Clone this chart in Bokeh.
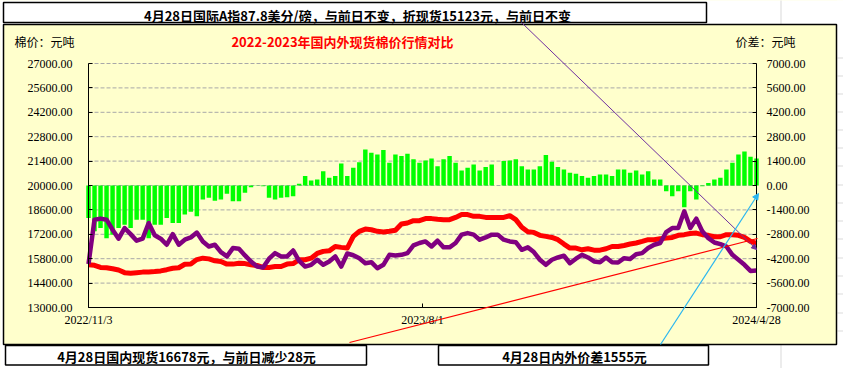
from bokeh.plotting import figure
from bokeh.models import (Range1d, LinearAxis, FixedTicker, NumeralTickFormatter,
                          CustomJSTickFormatter, BoxAnnotation, Label, Arrow, NormalHead,
                          ColumnDataSource)
from bokeh.embed import file_html
from bokeh.resources import INLINE

# ---------------- data ----------------
date_labels = ["2022/11/3", "2023/8/1", "2024/4/28"]

domestic = [
    15450, 15420, 15300, 15280, 15220, 15150, 15000, 14970, 15000, 15030,
    15040, 15060, 15100, 15170, 15250, 15280, 15480, 15500, 15750, 15830,
    15790, 15680, 15640, 15490, 15490, 15540, 15520, 15450, 15410, 15300,
    15300, 15350, 15350, 15490, 15520, 15740, 15740, 15830, 16100, 16220,
    16250, 16500, 16450, 16410, 17080, 17370, 17500, 17460, 17370, 17330,
    17370, 17430, 17790, 17850, 17980, 17980, 18100, 18100, 18060, 18040,
    18040, 18170, 18330, 18330, 18230, 18230, 18170, 18170, 18170, 18170,
    18270, 18040, 17600, 17350, 17310, 17140, 17080, 17020, 16890, 16640,
    16410, 16410, 16310, 16370, 16290, 16290, 16370, 16500, 16500, 16560,
    16640, 16700, 16790, 16890, 16890, 16950, 16980, 17020, 17140, 17180,
    17250, 17270, 17180, 17140, 17060, 17060, 17180, 17180, 17140, 17020,
    16790, 16678,
]

international = [
    15500, 18040, 18100, 18040, 17460, 16950, 17560, 17210, 16830, 16950,
    17850, 17140, 16950, 16600, 17210, 16600, 16890, 17020, 17300, 16790,
    16500, 16600, 16180, 15930, 16410, 16370, 15990, 15640, 15350, 15300,
    15800, 16120, 15930, 15930, 16270, 15680, 15350, 15450, 15740, 15450,
    15640, 15930, 15350, 16100, 16000, 15830, 15540, 15600, 15250, 15450,
    16020, 15990, 16020, 16120, 16560, 16700, 16790, 16500, 16830, 16450,
    16450, 16700, 17180, 17270, 17180, 16890, 17020, 17180, 17180, 16890,
    16790, 16750, 16310, 16450, 16180, 15740, 15450, 15740, 15870, 15970,
    15540, 15800, 16020, 15870, 15640, 15600, 15870, 15600, 15580, 15830,
    15780, 16060, 16120, 16410, 16600, 16700, 17330, 17560, 17560, 18520,
    17560, 18100, 17370, 16980, 16730, 16640, 16500, 16020, 15740, 15450,
    15100, 15123,
]

spread = [
    -1860, -2630, -2440, -3020, -2820, -2440, -2250, -2440, -1960, -1960,
    -3020, -2250, -2250, -1860, -2150, -2150, -1670, -1500, -1770, -810,
    -710, -870, -810, -480, -900, -900, -420, -100, 20, -40,
    -710, -810, -710, -670, -620, 100, 540, 285, 340, 820,
    440, 540, 1260, 540, 1020, 1340, 2070, 1880, 1780, 2030,
    1300, 1780, 1690, 1820, 1500, 1300, 1440, 1550, 1110, 1500,
    1690, 1300, 860, 1020, 1210, 860, 1060, 1210, 0, 1400,
    1440, 1500, 1100, 920, 920, 1110, 1750, 1360, 1060, 920,
    730, 670, 540, 440, 540, 630, 630, 540, 920, 920,
    730, 860, 630, 820, 340, 340, -330, -620, -330, -1250,
    -330, -810, -40, 150, 340, 440, 920, 1300, 1780, 1950,
    1650, 1555,
]

left_ticks = [13000, 14400, 15800, 17200, 18600, 20000, 21400, 22800, 24200, 25600, 27000]
right_ticks = [-7000, -5600, -4200, -2800, -1400, 0, 1400, 2800, 4200, 5600, 7000]

title_text = "2022-2023年国内外现货棉价行情对比"
left_unit = "棉价：元吨"
right_unit = "价差：元吨"
top_note = "4月28日国际A指87.8美分/磅，与前日不变，折现货15123元，与前日不变"
bottom_note1 = "4月28日国内现货16678元，与前日减少28元"
bottom_note2 = "4月28日内外价差1555元"

# ---------------- layout constants (canvas pixels) ----------------
W, H = 843, 368
PL, PR, PT, PB = 88, 756, 63, 307      # plot-area box in canvas pixels

n = len(domestic)
idx = list(range(n))
src = ColumnDataSource(dict(x=idx, domestic=domestic, international=international, spread=spread))

ylo, yhi = left_ticks[0], left_ticks[-1]
slo, shi = right_ticks[0], right_ticks[-1]
xpx = (PR - PL) / (n - 1)              # pixels per category step
vpx = (yhi - ylo) / (PB - PT)          # value per pixel

YELLOW = "#FFFFCC"
CJK = "Noto Sans CJK SC"
NUMF = "Liberation Serif"

p = figure(width=W, height=H, output_backend="svg", toolbar_location=None, title=None,
           x_range=Range1d(-PL / xpx, (n - 1) + (W - PR) / xpx),
           y_range=Range1d(ylo - (H - PB) * vpx, yhi + PT * vpx),
           min_border_left=0, min_border_right=0, min_border_top=0, min_border_bottom=0)
p.extra_y_ranges = {"spread": Range1d(slo - (H - PB) * vpx, shi + PT * vpx)}
p.background_fill_color = YELLOW
p.border_fill_color = YELLOW
p.outline_line_color = None
p.xgrid.visible = False
p.ygrid.visible = False

# dashed horizontal gridlines at the left-axis ticks, limited to the plot area
p.segment(x0=[0] * len(left_ticks), x1=[n - 1] * len(left_ticks), y0=left_ticks, y1=left_ticks,
          line_color="#A8A8A8", line_dash="4 2", line_width=1)

p.vbar(x="x", top="spread", bottom=0, width=0.74, y_range_name="spread",
       fill_color="#00FF00", line_color=None, source=src)
p.line("x", "domestic", source=src, line_color="#FF0000", line_width=5, line_join="round")
p.line("x", "international", source=src, line_color="#800080", line_width=4.5, line_join="round")

# axes (fixed inside the canvas so that the whole page can be drawn on)
def style_axis(ax):
    ax.axis_line_color = "black"
    ax.axis_line_width = 1
    ax.major_tick_in = 4
    ax.major_tick_out = 0
    ax.minor_tick_line_color = None
    ax.major_tick_line_color = "black"
    ax.major_label_text_font = NUMF
    ax.major_label_text_font_size = "12px"
    ax.major_label_text_color = "black"

yl = p.yaxis[0]
yl.ticker = FixedTicker(ticks=left_ticks)
yl.formatter = NumeralTickFormatter(format="0.00")
yl.fixed_location = 0
yl.bounds = (ylo, yhi)
style_axis(yl)
yl.major_label_standoff = 16

yr = LinearAxis(y_range_name="spread", ticker=FixedTicker(ticks=right_ticks),
                formatter=NumeralTickFormatter(format="0.00"),
                fixed_location=n - 1, bounds=(slo, shi))
style_axis(yr)
yr.major_label_standoff = 10
p.add_layout(yr, "right")

xa = p.xaxis[0]
x_ticks = [0, (n - 1) / 2, n - 1]
xa.ticker = FixedTicker(ticks=x_ticks)
xa.formatter = CustomJSTickFormatter(args=dict(lab=date_labels, pos=x_ticks),
    code="for (let i = 0; i < pos.length; i++) { if (Math.abs(tick - pos[i]) < 1e-6) return lab[i]; } return '';")
xa.fixed_location = ylo
xa.bounds = (0, n - 1)
style_axis(xa)
xa.major_label_standoff = 5

# ---------------- decorations: page pixel positions -> screen units ----------------
def sx(px):
    return px
def sy(py):
    return H - py

def box(x0, y0, x1, y1, fill=None, line=None, lw=1.5):
    b = BoxAnnotation(left=sx(x0), right=sx(x1), top=sy(y0), bottom=sy(y1),
                      left_units="screen", right_units="screen",
                      top_units="screen", bottom_units="screen",
                      fill_color=fill if fill else "white", fill_alpha=1 if fill else 0,
                      line_color=line if line else "black", line_width=lw,
                      line_alpha=1 if line else 0)
    p.add_layout(b)

# spreadsheet background around the chart area
box(-5, -5, W + 5, 23.5, fill="white")
box(-5, 344.5, W + 5, H + 5, fill="white")
box(836.5, -5, W + 5, H + 5, fill="white")
box(-5, -5, 2.5, H + 5, fill="white")
for gy in [57, 75, 93, 111, 129, 147, 165, 184, 202, 220, 238, 257, 275, 293, 312, 330]:
    box(837, gy, W + 5, gy + 1, fill="#DADADA")
box(780, -5, 781, 23.5, fill="#DADADA")
box(780, 344.5, 781, H + 5, fill="#DADADA")
# chart area outline
box(3, 24, 836, 344, line="black", lw=1.5)
# note boxes
box(3, 2, 706, 22, fill="white", line="black", lw=1.5)
box(5, 345, 366, 364.5, fill="white", line="black", lw=1.5)
box(438, 345, 708, 364.5, fill="white", line="black", lw=1.5)

def label(text, px, py, size, align="center", bold=False, color="black"):
    p.add_layout(Label(x=sx(px), y=sy(py), x_units="screen", y_units="screen", text=text,
                       text_align=align, text_baseline="middle", text_font=CJK,
                       text_font_size=size, text_font_style="bold" if bold else "normal",
                       text_color=color))

label(left_unit, 14, 41, "12px", align="left")
label(title_text, 342, 41, "13px", bold=True, color="#FF0000")
label(right_unit, 765, 41, "12px")
label(top_note, 357, 14.5, "13px", bold=True)
label(bottom_note1, 186, 356, "13px", bold=True)
label(bottom_note2, 574, 356, "13px", bold=True)

# pointer lines
p.add_layout(Arrow(end=NormalHead(size=5, fill_color="#7030A0", line_color="#7030A0"),
                   x_start=sx(521), y_start=sy(22), x_end=sx(756), y_end=sy(249),
                   start_units="screen", end_units="screen",
                   line_color="#7030A0", line_width=1))
p.add_layout(Arrow(end=None,
                   x_start=sx(349), y_start=sy(342), x_end=sx(757), y_end=sy(238),
                   start_units="screen", end_units="screen",
                   line_color="#FF0000", line_width=1.2))
p.add_layout(Arrow(end=NormalHead(size=6, fill_color="#29B6F0", line_color="#29B6F0"),
                   x_start=sx(660), y_start=sy(344), x_end=sx(758), y_end=sy(193),
                   start_units="screen", end_units="screen",
                   line_color="#29B6F0", line_width=1.2))

open("out.html", "w").write(file_html(p, INLINE))
